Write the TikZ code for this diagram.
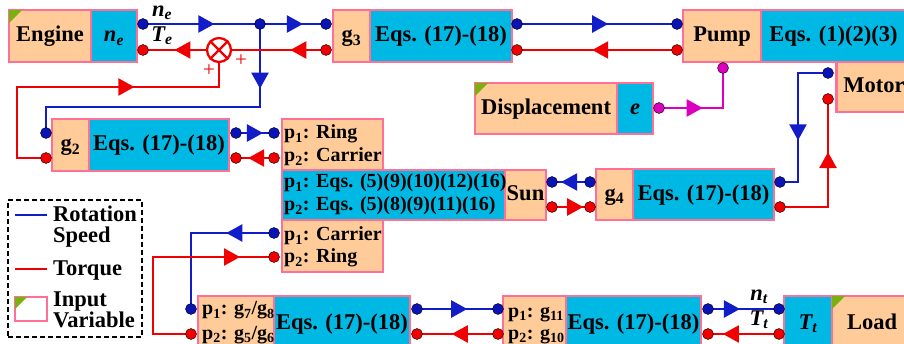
\documentclass[tikz,border=0pt]{standalone}
\usepackage{fontspec}
\setmainfont{Liberation Serif}
\usetikzlibrary{arrows.meta,decorations.markings}
\pgfdeclarelayer{bg}
\pgfsetlayers{bg,main}

\definecolor{rotblue}{RGB}{18,28,200}
\definecolor{dotblue}{RGB}{10,20,180}
\definecolor{torred}{RGB}{240,0,0}
\definecolor{dispmag}{RGB}{220,0,190}
\definecolor{peach}{RGB}{255,204,153}
\definecolor{eqcyan}{RGB}{0,184,228}
\definecolor{rim}{RGB}{255,112,150}
\definecolor{inputgreen}{RGB}{122,176,16}

\newcommand\blkfont{\fontsize{22.5}{25}\selectfont\bfseries}
\newcommand\pfont{\fontsize{20}{23}\selectfont\bfseries}
% green corner flag of an input variable block
\newcommand\inputmark[2]{\fill[inputgreen] ([shift={(1.2pt,-1.2pt)}]#1.north west) -- ++(#2,0) -- ++(-#2,#2) -- cycle;}

\tikzset{
  cell/.style={draw=rim, line width=2.3pt, inner sep=0pt, font=\blkfont,
    text height=16pt, text depth=4pt},
  peachcell/.style={cell, fill=peach},
  cyancell/.style={cell, fill=eqcyan},
  portdot/.style={circle, draw=black, line width=0.4pt, minimum size=11pt, inner sep=0pt},
  bdot/.style={portdot, fill=dotblue},
  rdot/.style={portdot, fill=torred},
  mdot/.style={portdot, fill=dispmag},
  rotflow/.style={rotblue, line width=2.3pt},
  torflow/.style={torred, line width=2.3pt},
  dispflow/.style={dispmag, line width=2.3pt},
  flowtip/.style={postaction=decorate, decoration={markings,
    mark=at position #1 with {\arrow{Triangle[length=16pt,width=17pt]}}}},
  ptext/.style={anchor=base west, inner sep=0pt, font=\pfont},
  lgtext/.style={anchor=base west, inner sep=0pt, font=\blkfont},
  varlbl/.style={inner sep=0pt, font=\blkfont\itshape},
}

\begin{document}
\begin{tikzpicture}[x=1pt, y=-1pt]
\useasboundingbox (0,0) rectangle (904,344);
\clip (0,0) rectangle (904,344);

% ---------- blocks ----------
\node[peachcell, minimum width=82pt, minimum height=52pt] (engine) at (50,36) {Engine};
\node[cyancell, minimum width=46pt, minimum height=52pt] (engVar) at (114,36) {\itshape n\textsubscript{e}};
\inputmark{engine}{13}

\node[peachcell, minimum width=37pt, minimum height=52pt] (g3a) at (351.5,36) {g\textsubscript{3}};
\node[cyancell, minimum width=142pt, minimum height=52pt] (g3b) at (441,36) {Eqs. (17)-(18)};

\node[peachcell, minimum width=78pt, minimum height=52pt] (pump) at (722,36) {Pump};
\node[cyancell, minimum width=145pt, minimum height=52pt] (pumpEq) at (833.5,36) {Eqs. (1)(2)(3)};

\node[peachcell, minimum width=75pt, minimum height=50pt] (motor) at (874,87) {Motor};

\node[peachcell, minimum width=142pt, minimum height=51pt] (disp) at (546,108.5) {Displacement};
\node[cyancell, minimum width=36pt, minimum height=51pt] (dispVar) at (635,108.5) {\itshape e};
\inputmark{disp}{13}

\node[peachcell, minimum width=37pt, minimum height=52pt] (g2a) at (70.5,145) {g\textsubscript{2}};
\node[cyancell, minimum width=140pt, minimum height=52pt] (g2b) at (159,145) {Eqs. (17)-(18)};

\node[peachcell, minimum width=101pt, minimum height=51pt] (pgTop) at (332.5,144.5) {};
\node[cyancell, minimum width=223pt, minimum height=50pt] (pgMid) at (393.5,195) {};
\node[peachcell, minimum width=41pt, minimum height=50pt] (sun) at (525.5,195) {Sun};
\node[peachcell, minimum width=101pt, minimum height=52pt] (pgBot) at (332.5,246) {};
\node[ptext] (pgT1) at (284,139) {p\textsubscript{1}: Ring};
\node[ptext] (pgT2) at (284,162) {p\textsubscript{2}: Carrier};
\node[ptext] (pgM1) at (284,188) {p\textsubscript{1}: Eqs. (5)(9)(10)(12)(16)};
\node[ptext] (pgM2) at (284,211) {p\textsubscript{2}: Eqs. (5)(8)(9)(11)(16)};
\node[ptext] (pgB1) at (284,241) {p\textsubscript{1}: Carrier};
\node[ptext] (pgB2) at (284,263) {p\textsubscript{2}: Ring};

\node[peachcell, minimum width=37pt, minimum height=51pt] (g4a) at (614.5,194.5) {g\textsubscript{4}};
\node[cyancell, minimum width=141pt, minimum height=51pt] (g4b) at (703.5,194.5) {Eqs. (17)-(18)};

\node[peachcell, minimum width=76pt, minimum height=54pt] (blA) at (236,323) {};
\node[cyancell, minimum width=136pt, minimum height=54pt] (blB) at (342,323) {Eqs. (17)-(18)};
\node[ptext] (blT1) at (202,315) {p\textsubscript{1}: g\textsubscript{7}/g\textsubscript{8}};
\node[ptext] (blT2) at (202,339) {p\textsubscript{2}: g\textsubscript{5}/g\textsubscript{6}};

\node[peachcell, minimum width=63pt, minimum height=54pt] (mbA) at (534.5,323) {};
\node[cyancell, minimum width=135pt, minimum height=54pt] (mbB) at (633.5,323) {Eqs. (17)-(18)};
\node[ptext] (mbT1) at (508,317) {p\textsubscript{1}: g\textsubscript{11}};
\node[ptext] (mbT2) at (508,339) {p\textsubscript{2}: g\textsubscript{10}};

\node[cyancell, minimum width=48pt, minimum height=54pt] (loadVar) at (808,323) {\itshape T\textsubscript{t}};
\node[peachcell, minimum width=80pt, minimum height=54pt] (load) at (872,323) {Load};
\inputmark{load}{13}

% ---------- torque summation ----------
\node[circle, draw=torred, line width=2.3pt, fill=white, minimum size=24pt, inner sep=0pt] (sum) at (219,50) {};
\draw[torred, line width=2.3pt] (sum.north west) -- (sum.south east) (sum.north east) -- (sum.south west);
\node[text=torred, inner sep=0pt, font=\fontsize{21}{21}\selectfont] (plusA) at (209,71) {+};
\node[text=torred, inner sep=0pt, font=\fontsize{21}{21}\selectfont] (plusB) at (241,61) {+};

% ---------- ports ----------
\node[bdot] (engB) at (143,24) {};   \node[rdot] (engR) at (143,50) {};
\node[bdot] (junc) at (260,24) {};
\node[bdot] (g3lB) at (326,24) {};   \node[rdot] (g3lR) at (326,50) {};
\node[bdot] (g3rB) at (517,24) {};   \node[rdot] (g3rR) at (517,50) {};
\node[bdot] (pumpB) at (677,24) {};  \node[rdot] (pumpR) at (677,50) {};
\node[mdot] (pumpM) at (723,68) {};  \node[mdot] (dispE) at (659,108) {};
\node[bdot] (motB) at (828,73) {};   \node[rdot] (motR) at (828,99) {};
\node[bdot] (g2lB) at (46,133) {};   \node[rdot] (g2lR) at (46,158) {};
\node[bdot] (g2rB) at (236,133) {};  \node[rdot] (g2rR) at (236,158) {};
\node[bdot] (ringB) at (274,133) {}; \node[rdot] (carR) at (274,158) {};
\node[bdot] (sunB) at (552,182) {};  \node[rdot] (sunR) at (552,207) {};
\node[bdot] (g4lB) at (590,182) {};  \node[rdot] (g4lR) at (590,207) {};
\node[bdot] (g4rB) at (780,182) {};  \node[rdot] (g4rR) at (780,207) {};
\node[bdot] (carB) at (274,233) {};  \node[rdot] (ringR) at (274,257) {};
\node[bdot] (blLB) at (191,309) {};  \node[rdot] (blLR) at (191,334) {};
\node[bdot] (blRB) at (417,309) {};  \node[rdot] (blRR) at (417,334) {};
\node[bdot] (mbLB) at (498,309) {};  \node[rdot] (mbLR) at (498,334) {};
\node[bdot] (mbRB) at (708,309) {};  \node[rdot] (mbRR) at (708,334) {};
\node[bdot] (ldB) at (779,309) {};   \node[rdot] (ldR) at (779,334) {};

% ---------- signal labels ----------
\node[varlbl] (neLbl) at (162,13) {n\textsubscript{e}};
\node[varlbl] (teLbl) at (162,36) {T\textsubscript{e}};
\node[varlbl] (ntLbl) at (759,297) {n\textsubscript{t}};
\node[varlbl] (ttLbl) at (759,320) {T\textsubscript{t}};

% ---------- legend ----------
\node[draw=black, dash pattern=on 5pt off 3pt, line width=1.3pt, minimum width=134pt, minimum height=137pt, inner sep=0pt] (legend) at (75,268.5) {};
\coordinate (lgB1) at (15,215); \coordinate (lgB2) at (47,215);
\coordinate (lgR1) at (15,269); \coordinate (lgR2) at (47,269);
\draw[rotflow] (lgB1) -- (lgB2);
\draw[torflow] (lgR1) -- (lgR2);
\node[draw=rim, line width=2.3pt, fill=white, minimum width=32pt, minimum height=24pt, inner sep=0pt] (lgIn) at (31,309) {};
\inputmark{lgIn}{12}
\node[lgtext] (lg1) at (53,222) {Rotation};
\node[lgtext] (lg2) at (53,243) {Speed};
\node[lgtext] (lg3) at (53,276) {Torque};
\node[lgtext] (lg4) at (53,306) {Input};
\node[lgtext] (lg5) at (53,327) {Variable};

% ---------- connectors ----------
\begin{pgfonlayer}{bg}
\fill[white] (0,0) rectangle (904,344);
% rotation speed
\draw[rotflow, flowtip=0.61] (engB.center) -- (junc.center);
\draw[rotflow, flowtip=0.65] (junc.center) -- (g3lB.center);
\draw[rotflow, flowtip=0.2] (junc.center) -- ++(0,83) -| (g2lB.center);
\draw[rotflow, flowtip=0.57] (g3rB.center) -- (pumpB.center);
\draw[rotflow, flowtip=0.71] (g2rB.center) -- (ringB.center);
\draw[rotflow, flowtip=0.62] (motB.center) -- ++(-30,0) |- (g4rB.center);
\draw[rotflow, flowtip=0.76] (g4lB.center) -- (sunB.center);
\draw[rotflow, flowtip=0.3] (carB.center) -| (blLB.center);
\draw[rotflow, flowtip=0.62] (blRB.center) -- (mbLB.center);
\draw[rotflow, flowtip=0.45] (mbRB.center) -- (ldB.center);
% torque
\draw[torflow, flowtip=0.38] (g3lR.center) -- (sum);
\draw[torflow, flowtip=0.5] (sum) -- (engR.center);
\draw[torflow, flowtip=0.667] (g2lR.center) -- ++(-29,0) -- ++(0,-71) -| (sum.south);
\draw[torflow, flowtip=0.53] (pumpR.center) -- (g3rR.center);
\draw[torflow, flowtip=0.68] (carR.center) -- (g2rR.center);
\draw[torflow, flowtip=0.66] (g4rR.center) -| (motR.center);
\draw[torflow, flowtip=0.82] (sunR.center) -- (g4lR.center);
\draw[torflow, flowtip=0.856] (blLR.center) -- ++(-38,0) |- (ringR.center);
\draw[torflow, flowtip=0.57] (mbLR.center) -- (blRR.center);
\draw[torflow, flowtip=0.79] (ldR.center) -- (mbRR.center);
% displacement
\draw[dispflow, flowtip=0.42] (dispE.center) -| (pumpM.center);
\end{pgfonlayer}
\end{tikzpicture}
\end{document}
